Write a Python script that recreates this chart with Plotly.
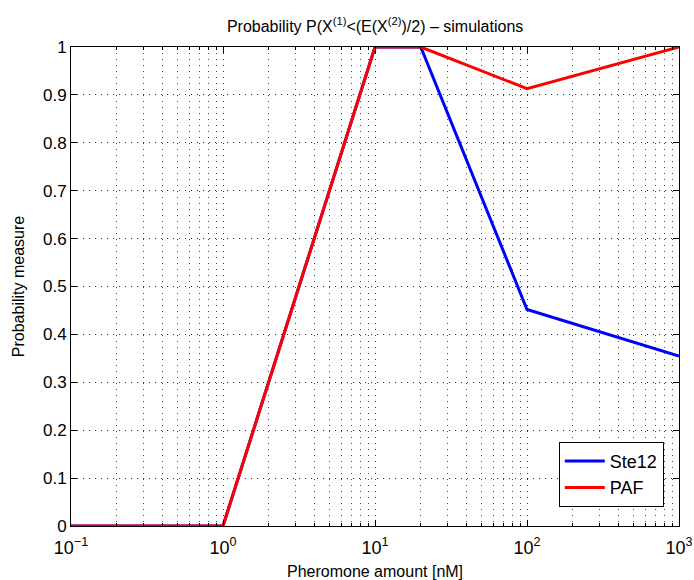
import plotly.graph_objects as go

pheromone = [0.1, 1, 10, 20, 100, 1000]
ste12 = [0, 0, 1, 1, 0.452, 0.355]
paf = [0, 0, 1, 1, 0.913, 1]

x_tickvals = [0.1, 1, 10, 100, 1000]
x_ticktext = ["10<sup>\u22121</sup>", "10<sup>0</sup>", "10<sup>1</sup>", "10<sup>2</sup>", "10<sup>3</sup>"]
y_tickvals = [0, 0.1, 0.2, 0.3, 0.4, 0.5, 0.6, 0.7, 0.8, 0.9, 1]
y_ticktext = ["0", "0.1", "0.2", "0.3", "0.4", "0.5", "0.6", "0.7", "0.8", "0.9", "1"]

minor_vals = [m * d for d in [0.1, 1, 10, 100] for m in range(2, 10)]

font = "Liberation Sans, Arial, sans-serif"
grid_dash = "1px,5px"

fig = go.Figure()
fig.add_trace(go.Scatter(x=pheromone, y=ste12, mode="lines", name="Ste12",
                         line=dict(color="#0000FF", width=3)))
fig.add_trace(go.Scatter(x=pheromone, y=paf, mode="lines", name="PAF",
                         line=dict(color="#FF0000", width=3)))

fig.update_layout(
    template="none",
    width=694, height=580,
    margin=dict(l=71, r=15, t=47, b=54, autoexpand=False),
    paper_bgcolor="white", plot_bgcolor="white",
    font=dict(family=font, size=16, color="black"),
    title=dict(text="Probability P(X<sup>(1)</sup>&lt;(E(X<sup>(2)</sup>)/2) \u2013 simulations",
               x=0.5405, xanchor="center", y=0.955, yanchor="middle",
               font=dict(size=16)),
    showlegend=True,
    legend=dict(x=0.975, y=0.04, xanchor="right", yanchor="bottom",
                bgcolor="white", bordercolor="black", borderwidth=1,
                font=dict(size=18), tracegroupgap=0, entrywidth=118,
                itemwidth=40),
    xaxis=dict(
        type="log", range=[-1, 3], automargin=False,
        tickvals=x_tickvals, ticktext=x_ticktext,
        ticks="inside", ticklen=6, tickcolor="black",
        showline=True, linecolor="black", linewidth=1, mirror="ticks",
        showgrid=True, gridcolor="rgba(0,0,0,0.8)", griddash=grid_dash, gridwidth=1,
        minor=dict(tickvals=minor_vals, ticks="inside", ticklen=3, tickcolor="black",
                   showgrid=True, gridcolor="rgba(0,0,0,0.7)", griddash=grid_dash, gridwidth=1),
        zeroline=False, ticklabelstandoff=5,
        title=dict(text="Pheromone amount [nM]", standoff=10, font=dict(size=16)),
        tickfont=dict(size=18),
    ),
    yaxis=dict(
        range=[0, 1], automargin=False,
        tickvals=y_tickvals, ticktext=y_ticktext,
        ticks="inside", ticklen=6, tickcolor="black",
        showline=True, linecolor="black", linewidth=1, mirror="ticks",
        showgrid=True, gridcolor="rgba(0,0,0,0.8)", griddash=grid_dash, gridwidth=1,
        zeroline=False,
        title=dict(text="Probability measure", standoff=14, font=dict(size=16)),
        tickfont=dict(size=17),
    ),
)

fig.write_html("out.html")
